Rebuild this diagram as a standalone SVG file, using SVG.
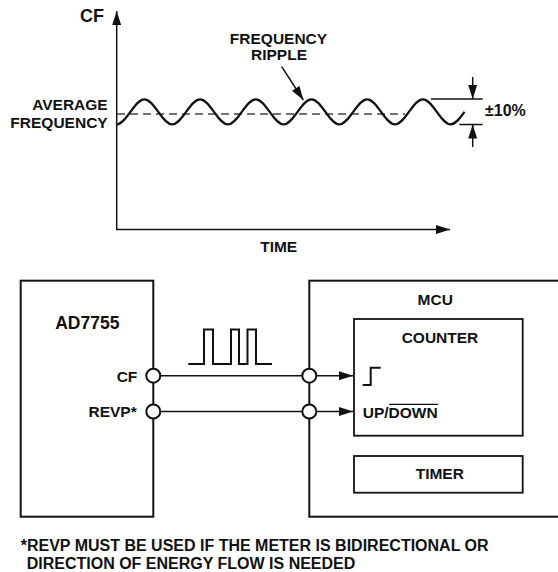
<svg xmlns="http://www.w3.org/2000/svg" width="558" height="572" viewBox="0 0 558 572">
<style>
.t{font-family:"Liberation Sans",Arial,Helvetica,sans-serif;font-weight:bold;font-size:15.5px;fill:#111}
.ln{stroke:#111;stroke-width:1.5;fill:none}
.box{stroke:#111;stroke-width:2;fill:none}
.pin{stroke:#111;stroke-width:2;fill:#fff}
.arr{marker-end:url(#ah)}
</style>
<defs>
<marker id="ah" markerUnits="userSpaceOnUse" markerWidth="14" markerHeight="9" refX="14" refY="4.5" orient="auto">
<path d="M0,0 L14,4.5 L0,9 Z" fill="#111"/>
</marker>
</defs>
<rect width="558" height="572" fill="#fff"/>
<g id="chart">
<line class="ln arr" x1="116.7" y1="230" x2="116.7" y2="11"/>
<line class="ln arr" x1="116" y1="229.5" x2="450" y2="229.5"/>
<text class="t" x="104" y="22" text-anchor="end" style="font-size:18px">CF</text>
<text class="t" x="278.7" y="252.3" text-anchor="middle">TIME</text>
<line x1="117" y1="114" x2="405" y2="114" stroke="#444" stroke-width="1.3" stroke-dasharray="8 5"/>
<path d="M116.5,124.3 C126.6,124.3 134.2,99.3 144.35,99.3 C154.5,99.3 162.1,124.3 172.2,124.3 C182.3,124.3 189.9,99.3 200.05,99.3 C210.2,99.3 217.8,124.3 227.9,124.3 C238,124.3 245.6,99.3 255.75,99.3 C265.9,99.3 273.5,124.3 283.6,124.3 C293.7,124.3 301.3,99.3 311.45,99.3 C321.6,99.3 329.2,124.3 339.3,124.3 C349.4,124.3 357,99.3 367.15,99.3 C377.3,99.3 384.9,124.3 395,124.3 C405.1,124.3 412.7,99.3 422.85,99.3 C433,99.3 440.6,124.3 450.7,124.3 C455.9,124.3 460.6,117.4 464.6,111.8" fill="none" stroke="#111" stroke-width="2.2"/>
<text class="t" x="107.7" y="110" text-anchor="end">AVERAGE</text>
<text class="t" x="107.7" y="128.3" text-anchor="end">FREQUENCY</text>
<text class="t" x="278.5" y="44" text-anchor="middle">FREQUENCY</text>
<text class="t" x="279" y="60" text-anchor="middle">RIPPLE</text>
<line class="ln arr" x1="281.7" y1="66.7" x2="303.3" y2="100"/>
<line class="ln" x1="431" y1="99" x2="482.7" y2="99"/>
<line class="ln" x1="459.3" y1="124.5" x2="482.7" y2="124.5"/>
<line class="ln arr" x1="472.7" y1="77" x2="472.7" y2="99"/>
<line class="ln arr" x1="472.7" y1="147" x2="472.7" y2="124.5"/>
<text class="t" x="485" y="115.7" style="font-size:16px">±10%</text>
</g>
<g id="connectors">
<line class="ln" x1="153.3" y1="375.7" x2="309.3" y2="375.7"/>
<line class="ln" x1="153.3" y1="411.5" x2="309.3" y2="411.5"/>
<line class="ln arr" x1="316.3" y1="375.7" x2="353" y2="375.7"/>
<line class="ln arr" x1="316.3" y1="411.5" x2="353" y2="411.5"/>
<path d="M188.3,364 H204 V329.5 H213 V364 H231 V329.5 H239 V364 H247.5 V329.5 H256 V364 H272" fill="none" stroke="#111" stroke-width="2"/>
</g>
<g id="ad7755">
<rect class="box" x="20.7" y="280.7" width="132.6" height="236"/>
<text class="t" x="87.3" y="329" text-anchor="middle" style="font-size:17.5px">AD7755</text>
<text class="t" x="137.3" y="381.7" text-anchor="end">CF</text>
<text class="t" x="136.7" y="416.7" text-anchor="end">REVP*</text>
<circle class="pin" cx="153.3" cy="375.7" r="7"/>
<circle class="pin" cx="153.3" cy="411.5" r="7"/>
</g>
<g id="mcu">
<rect class="box" x="309.3" y="280.7" width="262" height="236"/>
<text class="t" x="435.2" y="305" text-anchor="middle">MCU</text>
<circle class="pin" cx="309.3" cy="375.7" r="7"/>
<circle class="pin" cx="309.3" cy="411.5" r="7"/>
</g>
<g id="counter">
<rect class="box" x="354" y="319" width="168.7" height="116.7" style="stroke-width:1.8"/>
<text class="t" x="440" y="342.7" text-anchor="middle">COUNTER</text>
<path d="M362.7,385 H370.7 V367.7 H380.7" fill="none" stroke="#111" stroke-width="2"/>
<text class="t" x="362.7" y="418.3">UP/DOWN</text>
<line x1="389" y1="404.3" x2="438" y2="404.3" stroke="#111" stroke-width="1.3"/>
</g>
<g id="timer">
<rect class="box" x="354" y="456" width="168.7" height="36.7" style="stroke-width:1.8"/>
<text class="t" x="439.8" y="479.3" text-anchor="middle">TIMER</text>
</g>
<g id="footnote">
<text class="t" x="20.7" y="550.7" style="font-size:16px">*REVP MUST BE USED IF THE METER IS BIDIRECTIONAL OR</text>
<text class="t" x="26.7" y="569" style="font-size:16px">DIRECTION OF ENERGY FLOW IS NEEDED</text>
</g>
</svg>
